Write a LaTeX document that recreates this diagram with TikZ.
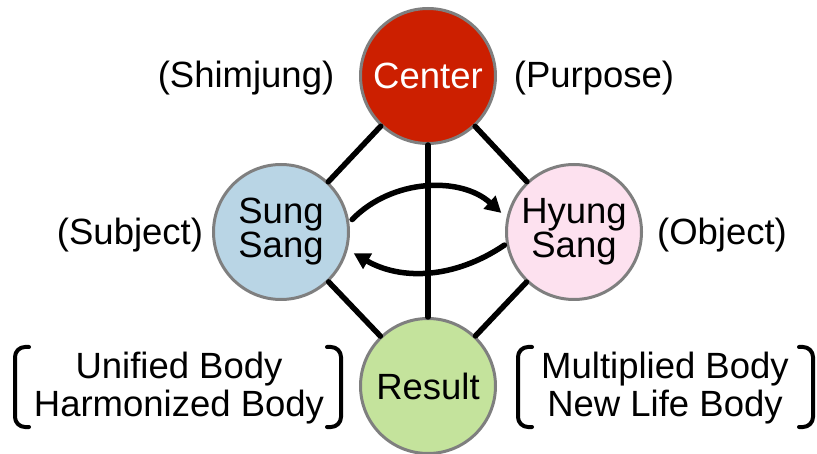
\documentclass[tikz,border=0pt]{standalone}
\usepackage{fontspec}
\setmainfont{Liberation Sans}
\usetikzlibrary{arrows.meta}
\definecolor{centred}{HTML}{CC1F00}
\definecolor{sungblue}{HTML}{B9D5E5}
\definecolor{hyungpink}{HTML}{FDE1EF}
\definecolor{resultgreen}{HTML}{C4E39C}
\definecolor{ringgray}{HTML}{7F7F7F}
\begin{document}
\begin{tikzpicture}[x=1pt,y=-1pt,line cap=round,line join=round,
  every node/.style={font=\fontsize{36.5}{38}\selectfont},
  ball/.style={circle,draw=ringgray,line width=3pt,minimum size=135pt,inner sep=0pt,
    align=center,font=\fontsize{36.5}{32}\selectfont},
  link/.style={line width=5.5pt},
  swap/.style={line width=5.5pt,-{Triangle[length=16pt,width=17pt]}},
  brace/.style={line width=4pt,rounded corners=10pt}]
  \useasboundingbox (0,0) rectangle (817,454);
  % the four circles
  \node[ball,fill=centred,text=white] (center) at (428,76) {Center};
  \node[ball,fill=sungblue] (sung) at (281,232) {Sung\\Sang};
  \node[ball,fill=hyungpink] (hyung) at (574,232) {Hyung\\Sang};
  \node[ball,fill=resultgreen] (result) at (428,386) {Result};
  % connecting lines
  \draw[link] (center) -- (sung);
  \draw[link] (center) -- (hyung);
  \draw[link] (sung) -- (result);
  \draw[link] (hyung) -- (result);
  \draw[link] (center) -- (result);
  % give and take
  \draw[swap,shorten <=4pt,shorten >=7pt] (sung.8) to[bend left=44] (hyung.168);
  \draw[swap,shorten <=2pt,shorten >=7pt] (hyung.-170) to[bend left=32] (sung.-15);
  % side labels
  \node (shimjung) at (246,78) {(Shimjung)};
  \node (purpose) at (594,78) {(Purpose)};
  \node (subject) at (130,235) {(Subject)};
  \node (object) at (722,235) {(Object)};
  \node[align=center] (unified) at (179,388) {Unified Body\\Harmonized Body};
  \node[align=center] (multiplied) at (665,388) {Multiplied Body\\New Life Body};
  % brackets
  \draw[brace] (29,347) -- (15,347) -- (15,427) -- (29,427);
  \draw[brace] (327,347) -- (341,347) -- (341,427) -- (327,427);
  \draw[brace] (532,347) -- (518,347) -- (518,427) -- (532,427);
  \draw[brace] (799,347) -- (813,347) -- (813,427) -- (799,427);
\end{tikzpicture}
\end{document}
